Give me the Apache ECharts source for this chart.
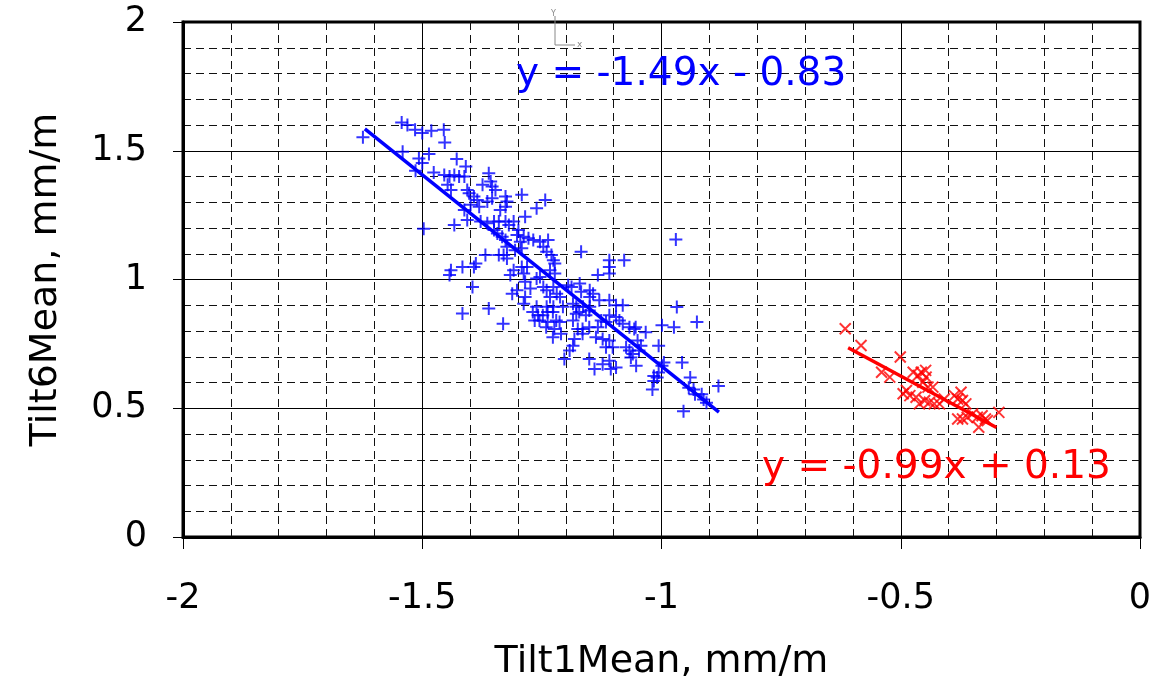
<!DOCTYPE html>
<html>
<head>
<meta charset="utf-8">
<script src="https://cdn.jsdelivr.net/npm/echarts@6/dist/echarts.min.js"></script>
<style>
html,body{margin:0;padding:0;background:#fff;}
#chart{width:1164px;height:688px;}
</style>
</head>
<body>
<div id="chart"></div>
<script>
// ---- data ----
var xTickLabels = ['-2', '-1.5', '-1', '-0.5', '0'];
var yTickLabels = ['0', '0.5', '1', '1.5', '2'];

// Blue series (+ markers): [Tilt1Mean, Tilt6Mean]
var bluePoints = [
  [-1.624,1.552],[-1.543,1.610],[-1.531,1.600],[-1.515,1.582],[-1.500,1.569],[-1.481,1.578],
  [-1.455,1.582],[-1.453,1.532],[-1.541,1.496],[-1.486,1.487],[-1.507,1.470],[-1.500,1.452],
  [-1.514,1.422],[-1.476,1.416],[-1.428,1.468],[-1.497,1.197],
  [-1.409,1.439],[-1.454,1.406],[-1.443,1.400],[-1.433,1.406],[-1.423,1.400],[-1.412,1.400],
  [-1.447,1.368],[-1.440,1.348],[-1.406,1.348],[-1.402,1.335],[-1.361,1.413],[-1.357,1.381],
  [-1.374,1.368],[-1.354,1.361],[-1.347,1.348],[-1.433,1.212],[-1.392,1.322],[-1.385,1.309],
  [-1.364,1.303],[-1.354,1.316],[-1.381,1.283],[-1.399,1.290],[-1.412,1.270],[-1.326,1.322],
  [-1.323,1.303],[-1.326,1.283],[-1.337,1.270],[-1.292,1.329],[-1.285,1.244],[-1.261,1.277],
  [-1.243,1.309],[-1.406,1.231],[-1.378,1.225],[-1.364,1.218],[-1.350,1.225],[-1.340,1.225],
  [-1.326,1.225],[-1.319,1.212],[-1.309,1.225],[-1.299,1.192],[-1.350,1.192],[-1.343,1.179],
  [-1.333,1.166],[-1.326,1.153],[-1.323,1.127],[-1.302,1.173],[-1.288,1.166],[-1.278,1.160],
  [-1.268,1.153],[-1.254,1.147],[-1.247,1.127],[-1.237,1.153],[-1.368,1.095],[-1.340,1.095],
  [-1.330,1.095],[-1.323,1.082],[-1.295,1.147],[-1.292,1.121],[-1.306,1.114],[-1.240,1.108],
  [-1.230,1.095],[-1.226,1.075],[-1.223,1.062],[-1.233,1.036],[-1.223,1.023],[-1.440,1.036],
  [-1.443,1.017],[-1.416,1.049],[-1.392,1.049],[-1.388,1.062],[-1.395,0.971],[-1.316,1.017],
  [-1.309,1.036],[-1.292,1.049],[-1.288,1.023],[-1.281,1.049],[-1.285,0.991],[-1.274,0.965],
  [-1.261,1.004],[-1.254,1.010],[-1.247,0.971],[-1.240,0.958],[-1.226,0.971],[-1.219,0.945],
  [-1.233,0.932],[-1.212,0.932],[-1.312,0.945],[-1.302,0.958],[-1.285,0.932],[-1.288,0.906],
  [-1.195,0.978],[-1.188,0.971],[-1.171,0.984],[-1.168,0.952],[-1.150,0.958],[-1.150,0.932],
  [-1.143,0.945],[-1.168,1.108],[-1.133,1.017],[-1.109,1.075],[-1.109,1.049],[-1.109,1.023],
  [-1.078,1.075],[-1.185,0.906],[-1.178,0.894],[-1.164,0.894],[-1.150,0.894],[-1.130,0.919],
  [-1.109,0.919],[-1.095,0.900],[-1.081,0.900],[-1.261,0.894],[-1.240,0.894],[-1.226,0.894],
  [-1.206,0.894],[-1.361,0.887],
  [-1.331,0.828],[-1.269,0.874],[-1.258,0.861],[-1.248,0.861],[-1.238,0.874],[-1.227,0.874],
  [-1.265,0.841],[-1.255,0.841],[-1.238,0.835],[-1.220,0.841],[-1.213,0.835],[-1.241,0.815],
  [-1.224,0.808],[-1.210,0.789],[-1.227,0.776],[-1.178,0.867],[-1.172,0.874],[-1.158,0.861],
  [-1.151,0.880],[-1.185,0.841],[-1.175,0.808],[-1.165,0.808],[-1.151,0.815],[-1.133,0.815],
  [-1.126,0.841],[-1.116,0.835],[-1.109,0.861],[-1.095,0.854],[-1.088,0.841],[-1.081,0.828],
  [-1.067,0.815],[-1.057,0.808],[-1.165,0.789],[-1.137,0.776],[-1.123,0.769],[-1.109,0.763],
  [-1.116,0.737],[-1.102,0.737],[-1.182,0.769],[-1.185,0.743],[-1.192,0.724],[-1.203,0.691],
  [-1.151,0.691],[-1.140,0.652],[-1.123,0.671],[-1.109,0.684],[-1.106,0.652],[-1.095,0.658],
  [-1.074,0.737],[-1.067,0.724],[-1.060,0.711],[-1.064,0.697],[-1.053,0.665],
  [-1.050,0.763],[-1.043,0.743],[-1.047,0.724],[-1.054,0.815],[-1.033,0.795],[-0.999,0.822],
  [-0.974,0.815],[-0.968,0.893],[-0.926,0.835],[-1.006,0.743],[-1.016,0.625],[-1.009,0.619],
  [-1.006,0.639],[-1.016,0.606],[-1.019,0.573],[-0.995,0.678],[-0.999,0.665],[-0.957,0.678],
  [-0.940,0.619],[-0.943,0.580],[-0.933,0.573],[-0.930,0.554],[-0.916,0.554],[-0.912,0.534],
  [-0.906,0.521],[-0.954,0.488],[-0.881,0.586],
  [-1.416,0.868],[-0.970,1.155]
];

// Red series (x markers): [Tilt1Mean, Tilt6Mean]
var redPoints = [
  [-0.616,0.809],[-0.583,0.744],[-0.501,0.699],[-0.540,0.640],[-0.523,0.621],[-0.495,0.556],
  [-0.488,0.569],[-0.481,0.549],[-0.474,0.640],[-0.464,0.627],[-0.457,0.640],[-0.448,0.647],
  [-0.447,0.621],[-0.454,0.601],[-0.443,0.582],[-0.433,0.582],[-0.468,0.543],[-0.461,0.517],
  [-0.450,0.530],[-0.440,0.523],[-0.430,0.517],[-0.419,0.517],[-0.409,0.536],[-0.388,0.549],
  [-0.381,0.536],[-0.374,0.562],[-0.371,0.530],[-0.364,0.517],[-0.381,0.458],[-0.371,0.458],
  [-0.361,0.465],[-0.350,0.478],[-0.340,0.465],[-0.330,0.471],[-0.323,0.458],[-0.337,0.426],
  [-0.319,0.452],[-0.295,0.484]
];

// Trend line end points
var blueTrend = [[-1.62, 1.585], [-0.88, 0.485]];
var redTrend = [[-0.61, 0.735], [-0.30, 0.425]];

var blueEquation = 'y = -1.49x - 0.83';
var redEquation = 'y = -0.99x + 0.13';
var xAxisName = 'Tilt1Mean, mm/m';
var yAxisName = 'Tilt6Mean, mm/m';

// ---- chart ----
var FONT = 'DejaVu Sans';
var chart = echarts.init(document.getElementById('chart'), null, {renderer: 'canvas'});
var dashed = {color: '#111', width: 1, type: [8, 5]};

chart.setOption({
  animation: false,
  backgroundColor: '#fff',
  grid: {left: 183, right: 24, top: 22, bottom: 151, show: true, borderColor: '#000', borderWidth: 3, backgroundColor: 'transparent'},
  xAxis: {
    type: 'value', min: -2, max: 0, interval: 0.5,
    axisLine: {show: true, onZero: false, lineStyle: {color: '#000', width: 3}},
    axisTick: {show: true, length: 12, inside: false, lineStyle: {color: '#000', width: 1}},
    axisLabel: {color: '#000', fontFamily: FONT, fontSize: 35, margin: 44,
      formatter: function (v) { return xTickLabels[Math.round((v + 2) / 0.5)]; }},
    splitLine: {show: true, lineStyle: {color: '#000', width: 1}},
    minorTick: {show: true, splitNumber: 5, length: 0},
    minorSplitLine: {show: true, lineStyle: dashed},
    name: xAxisName, nameLocation: 'middle', nameGap: 106,
    nameTextStyle: {color: '#000', fontFamily: FONT, fontSize: 38}
  },
  yAxis: {
    type: 'value', min: 0, max: 2, interval: 0.5,
    axisLine: {show: true, onZero: false, lineStyle: {color: '#000', width: 3}},
    axisTick: {show: true, length: 10, inside: false, lineStyle: {color: '#000', width: 1}},
    axisLabel: {color: '#000', fontFamily: FONT, fontSize: 35, margin: 36,
      formatter: function (v) { return yTickLabels[Math.round(v / 0.5)]; }},
    splitLine: {show: true, lineStyle: {color: '#000', width: 1}},
    minorTick: {show: true, splitNumber: 5, length: 0},
    minorSplitLine: {show: true, lineStyle: dashed},
    name: yAxisName, nameLocation: 'middle', nameGap: 118,
    nameTextStyle: {color: '#000', fontFamily: FONT, fontSize: 38}
  },
  series: [
    {
      type: 'scatter', data: bluePoints, symbol: 'path://M5,0 L5,10 M0,5 L10,5', symbolSize: 13,
      itemStyle: {color: 'rgba(0,0,0,0)', borderColor: '#0000ff', borderWidth: 2}, z: 3
    },
    {
      type: 'scatter', data: redPoints, symbol: 'path://M0,0 L10,10 M10,0 L0,10', symbolSize: 11,
      itemStyle: {color: 'rgba(0,0,0,0)', borderColor: '#ff0000', borderWidth: 2}, z: 3
    },
    {
      type: 'line', data: blueTrend, showSymbol: false, symbol: 'none',
      lineStyle: {color: '#0000ff', width: 3.5}, z: 4
    },
    {
      type: 'line', data: redTrend, showSymbol: false, symbol: 'none',
      lineStyle: {color: '#ff0000', width: 3.5}, z: 4
    }
  ],
  graphic: [
    {type: 'text', left: 516, top: 55, z: 10,
      style: {text: blueEquation, fill: '#0000ff', font: '39px "DejaVu Sans"'}},
    {type: 'text', left: 762, top: 448, z: 10,
      style: {text: redEquation, fill: '#ff0000', font: '39px "DejaVu Sans"'}},
    {type: 'line', z: 10, shape: {x1: 555, y1: 16, x2: 555, y2: 45}, style: {stroke: '#888', lineWidth: 1}},
    {type: 'line', z: 10, shape: {x1: 555, y1: 45, x2: 575, y2: 45}, style: {stroke: '#888', lineWidth: 1}},
    {type: 'text', z: 10, left: 551, top: 10, style: {text: 'Y', fill: '#888', font: '8px "DejaVu Sans"'}},
    {type: 'text', z: 10, left: 577, top: 40, style: {text: 'x', fill: '#888', font: '9px "DejaVu Sans"'}}
  ]
});
</script>
</body>
</html>
